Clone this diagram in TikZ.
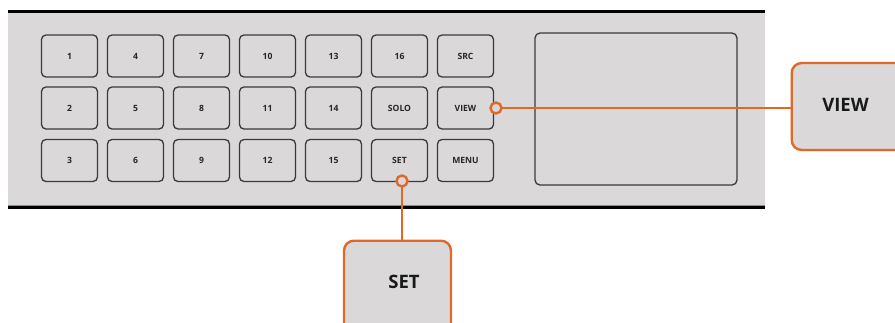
\documentclass[tikz,border=0pt]{standalone}
\usepackage{fontspec}
\setmainfont{Open Sans}
\definecolor{panelgray}{HTML}{DAD8D9}
\definecolor{callorange}{HTML}{E0692A}
\definecolor{edgegray}{HTML}{3A3A3A}
\begin{document}
\begin{tikzpicture}[x=1pt,y=-1pt,
  key/.style={draw=edgegray,line width=1.3pt,fill=panelgray,rounded corners=4.5pt,
    minimum width=56pt,minimum height=42pt,inner sep=0pt,
    font=\fontsize{8.6}{10}\selectfont\bfseries,text=black!85},
  callout/.style={draw=callorange,line width=2.4pt,fill=panelgray,rounded corners=10pt,
    inner sep=0pt},
  calltext/.style={font=\fontsize{18.5}{21}\selectfont\bfseries,text=black!90},
  lead/.style={draw=callorange,line width=2.6pt},
  dot/.style={circle,draw=callorange,line width=2.4pt,fill=panelgray,minimum size=11pt,inner sep=0pt}]
\clip (0,0) rectangle (895,322);
\fill[white] (0,0) rectangle (895,322);
% panel
\fill[panelgray] (8,12) rectangle (765,206);
\draw[line width=3.2pt,black] (8,11.5) -- (765,11.5);
\draw[line width=0.6pt,black!45] (8,205) -- (765,205);
\draw[line width=3.4pt,black] (8,207.5) -- (765,207.5);
% keys
\foreach \lab [count=\i from 0] in {1,4,7,10,13,16,SRC}{
  \node[key] (r1c\i) at (69.5+66*\i,56) {\lab};}
\foreach \lab [count=\i from 0] in {2,5,8,11,14,SOLO,VIEW}{
  \node[key] (r2c\i) at (69.5+66*\i,108) {\lab};}
\foreach \lab [count=\i from 0] in {3,6,9,12,15,SET,MENU}{
  \node[key] (r3c\i) at (69.5+66*\i,160.5) {\lab};}
% screen
\node[draw=edgegray,line width=1.3pt,fill=panelgray,rounded corners=5pt,
  minimum width=202pt,minimum height=152pt,inner sep=0pt] (screen) at (636,109) {};
% callouts
\node[callout,minimum width=140pt,minimum height=87pt,anchor=west] (viewbox) at (790.5,106.5) {};
\node[calltext] (viewtxt) at (845.5,104.5) {VIEW};
\node[callout,minimum width=107pt,minimum height=110pt,anchor=north] (setbox) at (397.5,239.5) {};
\node[calltext] (settxt) at (404,281.5) {SET};
% leaders
\coordinate (vdot) at (496,108);
\coordinate (sdot) at (402,181);
\draw[lead] (vdot) -- (vdot -| viewbox.west);
\draw[lead] (sdot) -- (sdot |- setbox.north);
\node[dot] (vd) at (vdot) {};
\node[dot] (sd) at (sdot) {};
\end{tikzpicture}
\end{document}
